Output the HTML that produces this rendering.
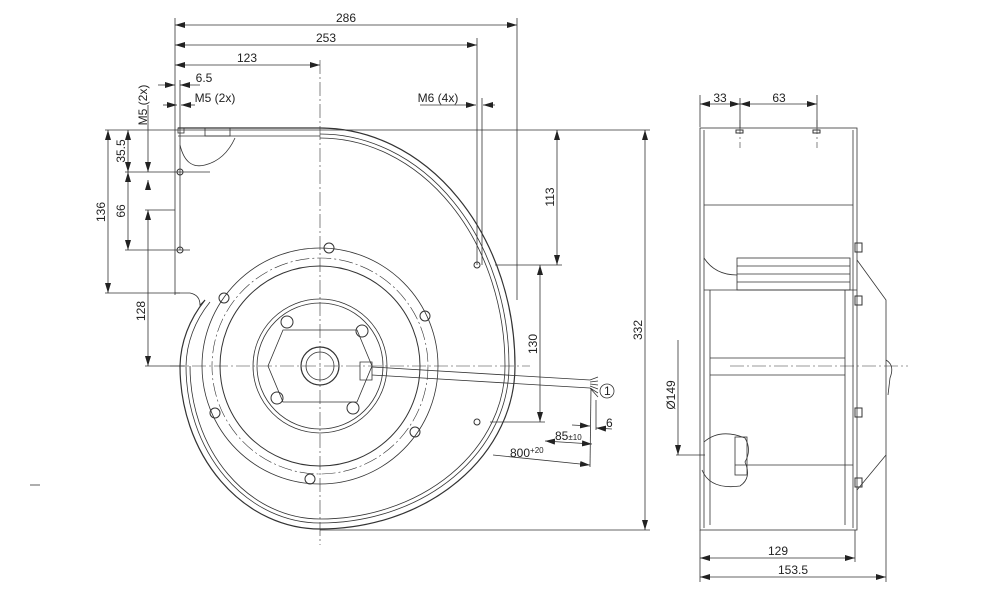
<!DOCTYPE html>
<html><head><meta charset="utf-8"><style>
html,body{margin:0;padding:0;background:#fff}
svg{display:block}
text{font-family:"Liberation Sans",sans-serif;font-size:12px;fill:#222}
</style></head><body>
<svg width="1000" height="593" viewBox="0 0 1000 593" xmlns="http://www.w3.org/2000/svg">
<defs>
<marker id="a" viewBox="0 0 10 6" refX="10" refY="3" markerWidth="10" markerHeight="6" orient="auto-start-reverse" markerUnits="userSpaceOnUse"><path d="M0,0L10,3L0,6z" fill="#222"/></marker>
</defs>
<g stroke="#333" stroke-width="0.8" fill="none">
<!-- extension lines -->
<line x1="175" y1="18" x2="175" y2="295"/>
<line x1="517" y1="18" x2="517" y2="300"/>
<line x1="477" y1="38" x2="477" y2="265"/>
<line x1="482" y1="98" x2="482" y2="265"/>
<line x1="180" y1="80" x2="180" y2="250"/>
<line x1="105" y1="130" x2="650" y2="130"/>
<line x1="105" y1="293" x2="180" y2="293"/>
<line x1="125" y1="172" x2="210" y2="172"/>
<line x1="125" y1="250" x2="190" y2="250"/>
<line x1="145" y1="210" x2="175" y2="210"/>
<line x1="145" y1="366" x2="185" y2="366"/>
<line x1="495" y1="265" x2="562" y2="265"/>
<line x1="490" y1="422" x2="545" y2="422"/>
<line x1="320" y1="530" x2="650" y2="530"/>
<!-- dims -->
<line x1="175" y1="25" x2="517" y2="25" marker-start="url(#a)" marker-end="url(#a)"/>
<line x1="175" y1="45" x2="477" y2="45" marker-start="url(#a)" marker-end="url(#a)"/>
<line x1="175" y1="65" x2="320" y2="65" marker-start="url(#a)" marker-end="url(#a)"/>
<line x1="158" y1="85" x2="175" y2="85" marker-end="url(#a)"/><line x1="200" y1="85" x2="180" y2="85" marker-end="url(#a)"/>
<line x1="163" y1="105" x2="177" y2="105" marker-end="url(#a)"/><line x1="195" y1="105" x2="181" y2="105" marker-end="url(#a)"/>
<line x1="420" y1="105" x2="476" y2="105" marker-end="url(#a)"/><line x1="495" y1="105" x2="483" y2="105" marker-end="url(#a)"/>
<line x1="108" y1="130" x2="108" y2="293" marker-start="url(#a)" marker-end="url(#a)"/>
<line x1="128" y1="130" x2="128" y2="172" marker-start="url(#a)" marker-end="url(#a)"/>
<line x1="128" y1="172" x2="128" y2="250" marker-start="url(#a)" marker-end="url(#a)"/>
<line x1="148" y1="105" x2="148" y2="172" marker-end="url(#a)"/><line x1="148" y1="190" x2="148" y2="180" marker-end="url(#a)"/>
<line x1="148" y1="210" x2="148" y2="366" marker-start="url(#a)" marker-end="url(#a)"/>
<line x1="557" y1="130" x2="557" y2="265" marker-start="url(#a)" marker-end="url(#a)"/>
<line x1="540" y1="265" x2="540" y2="422" marker-start="url(#a)" marker-end="url(#a)"/>
<line x1="645" y1="130" x2="645" y2="530" marker-start="url(#a)" marker-end="url(#a)"/>
<line x1="545" y1="441" x2="592" y2="444" marker-start="url(#a)" marker-end="url(#a)"/>
<line x1="493" y1="455" x2="590" y2="465" marker-end="url(#a)"/>
<line x1="572" y1="425" x2="590" y2="426" marker-end="url(#a)"/><line x1="612" y1="429" x2="596" y2="428" marker-end="url(#a)"/>
<line x1="591" y1="388" x2="590" y2="467"/><line x1="596" y1="400" x2="596" y2="430"/>
<!-- centerlines -->
<g stroke-dasharray="14,3,2,3" stroke-width="0.6">
<line x1="320" y1="60" x2="320" y2="545"/>
<line x1="170" y1="366" x2="530" y2="366"/>
<line x1="730" y1="366" x2="908" y2="366"/>
<line x1="740" y1="120" x2="740" y2="148"/><line x1="817" y1="120" x2="817" y2="148"/>
</g>
<!-- scroll housing -->
<path d="M178,128 L320,128 A195,238 0 0 1 515,366 A195,163 0 0 1 320,529 A140,163 0 0 1 180,366 A140,120 0 0 1 205,300" stroke-width="1.2"/>
<path d="M320,134 A189,232 0 0 1 509,366 A189,157 0 0 1 320,523 A134,157 0 0 1 186,366 A134,115 0 0 1 210,302"/>
<path d="M320,138 A185,228 0 0 1 505,366 A185,153 0 0 1 320,519 A130,153 0 0 1 190,366"/>
<path d="M178,136 L320,136"/>
<path d="M180,145 Q186,170 205,165 Q225,160 235,138"/>
<rect x="178" y="128" width="6" height="5"/>
<rect x="205" y="128" width="25" height="8"/>
<path d="M175,293 L190,293 Q200,295 200,305 L205,300"/>
<!-- hub -->
<circle cx="320" cy="366" r="118"/>
<circle cx="320" cy="366" r="108" stroke-dasharray="14,3,2,3" stroke-width="0.6"/>
<circle cx="320" cy="366" r="100" stroke-width="1"/>
<circle cx="320" cy="366" r="67"/>
<circle cx="320" cy="366" r="63"/>
<path d="M283,330 L357,330 L372,366 L357,402 L283,402 L268,366 Z"/>
<circle cx="320" cy="366" r="19" stroke-width="1.2"/>
<circle cx="320" cy="366" r="14"/>
<g stroke-width="1">
<circle cx="329" cy="248" r="5"/><circle cx="224" cy="298" r="5"/><circle cx="425" cy="316" r="5"/>
<circle cx="215" cy="413" r="5"/><circle cx="415" cy="432" r="5"/><circle cx="310" cy="479" r="5"/>
<circle cx="287" cy="322" r="6"/><circle cx="362" cy="331" r="6"/><circle cx="277" cy="398" r="6"/><circle cx="353" cy="408" r="6"/>
<circle cx="180" cy="172" r="3"/><circle cx="180" cy="250" r="3"/><circle cx="477" cy="265" r="3"/><circle cx="477" cy="422" r="3"/>
</g>
<!-- cable -->
<path d="M360,362 L372,362 L372,380 L360,380 Z"/>
<line x1="372" y1="367" x2="590" y2="380"/>
<line x1="372" y1="375" x2="590" y2="388"/>
<path d="M590,380 L598,377 M590,382 L598,381 M590,384 L598,385 M590,386 L598,389 M590,388 L598,393 M590,388 L598,397"/>
<circle cx="607" cy="391" r="7"/>
<!-- side view -->
<rect x="700" y="128" width="157" height="402"/>
<line x1="704" y1="130" x2="704" y2="528"/><line x1="853" y1="130" x2="853" y2="528"/>
<line x1="704" y1="205" x2="853" y2="205"/>
<line x1="704" y1="290" x2="857" y2="290"/>
<line x1="710" y1="290" x2="710" y2="525"/><line x1="845" y1="290" x2="845" y2="525"/>
<line x1="710" y1="358" x2="845" y2="358"/><line x1="710" y1="375" x2="845" y2="375"/>
<line x1="735" y1="465" x2="853" y2="465"/>
<rect x="737" y="258" width="113" height="32"/>
<line x1="737" y1="266" x2="850" y2="266"/><line x1="737" y1="274" x2="850" y2="274"/><line x1="737" y1="282" x2="850" y2="282"/>
<path d="M704,258 Q715,275 737,275"/>
<path d="M857,260 L886,300 L886,455 L857,490"/>
<path d="M704,442 Q720,428 745,438 Q752,450 745,462 Q752,478 740,486 Q710,490 702,470"/>
<rect x="735" y="437" width="12" height="38"/>
<g stroke-width="1"><rect x="855" y="243" width="7" height="9"/><rect x="855" y="296" width="7" height="9"/><rect x="855" y="408" width="7" height="9"/><rect x="855" y="478" width="7" height="9"/>
<rect x="736" y="130" width="7" height="3"/><rect x="813" y="130" width="7" height="3"/></g>
<path d="M886,360 Q895,365 890,378 L888,395"/>
<!-- side dims -->
<line x1="700" y1="95" x2="700" y2="127"/><line x1="817" y1="95" x2="817" y2="127"/><line x1="740" y1="98" x2="740" y2="128"/>
<line x1="700" y1="104" x2="740" y2="104" marker-start="url(#a)" marker-end="url(#a)"/>
<line x1="740" y1="104" x2="817" y2="104" marker-start="url(#a)" marker-end="url(#a)"/>
<line x1="700" y1="530" x2="700" y2="582"/><line x1="855" y1="530" x2="855" y2="562"/><line x1="886" y1="455" x2="886" y2="582"/>
<line x1="700" y1="558" x2="855" y2="558" marker-start="url(#a)" marker-end="url(#a)"/>
<line x1="700" y1="577" x2="886" y2="577" marker-start="url(#a)" marker-end="url(#a)"/>
<line x1="678" y1="340" x2="678" y2="455" marker-end="url(#a)"/>
<line x1="676" y1="455" x2="705" y2="455"/>
<line x1="30" y1="485" x2="40" y2="485"/>
</g>
<g>
<text x="346" y="22" text-anchor="middle">286</text>
<text x="326" y="42" text-anchor="middle">253</text>
<text x="247" y="62" text-anchor="middle">123</text>
<text x="204" y="82" text-anchor="middle">6.5</text>
<text x="215" y="102" text-anchor="middle">M5 (2x)</text>
<text x="438" y="102" text-anchor="middle">M6 (4x)</text>
<text transform="translate(147,105) rotate(-90)" text-anchor="middle">M5 (2x)</text>
<text transform="translate(105,212) rotate(-90)" text-anchor="middle">136</text>
<text transform="translate(125,151) rotate(-90)" text-anchor="middle">35.5</text>
<text transform="translate(125,211) rotate(-90)" text-anchor="middle">66</text>
<text transform="translate(145,311) rotate(-90)" text-anchor="middle">128</text>
<text transform="translate(554,197) rotate(-90)" text-anchor="middle">113</text>
<text transform="translate(537,344) rotate(-90)" text-anchor="middle">130</text>
<text transform="translate(642,330) rotate(-90)" text-anchor="middle">332</text>
<text x="604" y="395" font-size="10px">1</text>
<text x="606" y="427">6</text>
<text x="555" y="440">85<tspan font-size="8px">±10</tspan></text>
<text x="510" y="457">800<tspan font-size="8px" dy="-4">+20</tspan></text>
<text x="720" y="102" text-anchor="middle">33</text>
<text x="779" y="102" text-anchor="middle">63</text>
<text x="778" y="555" text-anchor="middle">129</text>
<text x="793" y="574" text-anchor="middle">153.5</text>
<text transform="translate(675,395) rotate(-90)" text-anchor="middle">Ø149</text>
</g>
</svg>
</body></html>
